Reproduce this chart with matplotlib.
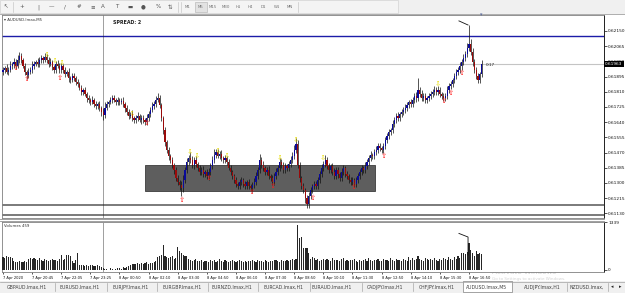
import matplotlib
matplotlib.use('Agg')
import matplotlib.pyplot as plt
from matplotlib.patches import Rectangle

W, H = 625, 293

# ---------------- data (prices in points: 61932 -> 0.61932) ----------------
first_open = 61921
closes = [
    61932, 61943, 61921, 61932, 61954, 61965, 61976, 61954, 61988, 62010,
    61988, 61954, 61921, 61904, 61921, 61932, 61954, 61965, 61976, 61965,
    61988, 61999, 61988, 62004, 61988, 61965, 61976, 61948, 61932, 61965,
    61954, 61932, 61954, 61932, 61909, 61921, 61887, 61876, 61898, 61887,
    61865, 61853, 61831, 61809, 61820, 61798, 61775, 61764, 61753, 61764,
    61742, 61730, 61742, 61719, 61697, 61680, 61719, 61742, 61753, 61764,
    61775, 61764, 61753, 61764, 61753, 61758, 61742, 61719, 61697, 61675,
    61686, 61663, 61652, 61663, 61675, 61652, 61663, 61652, 61641, 61663,
    61686, 61708, 61730, 61742, 61764, 61775, 61736, 61663, 61596, 61529,
    61484, 61451, 61429, 61401, 61373, 61328, 61306, 61289, 61272, 61317,
    61373, 61417, 61440, 61429, 61401, 61429, 61406, 61384, 61362, 61373,
    61350, 61362, 61339, 61362, 61395, 61429, 61457, 61473, 61451, 61462,
    61440, 61429, 61440, 61417, 61384, 61362, 61339, 61317, 61294, 61283,
    61306, 61317, 61294, 61283, 61306, 61283, 61272, 61289, 61306, 61339,
    61373, 61429, 61401, 61384, 61362, 61373, 61339, 61328, 61306, 61339,
    61362, 61384, 61417, 61401, 61373, 61395, 61384, 61406, 61429, 61451,
    61484, 61518, 61401, 61328, 61283, 61261, 61216, 61183, 61227, 61261,
    61283, 61294, 61283, 61317, 61350, 61384, 61406, 61429, 61395, 61373,
    61395, 61362, 61339, 61373, 61350, 61328, 61362, 61384, 61350, 61339,
    61317, 61306, 61317, 61294, 61317, 61339, 61362, 61384, 61373, 61395,
    61417, 61440, 61457, 61451, 61473, 61484, 61507, 61496, 61484, 61507,
    61540, 61563, 61585, 61596, 61630, 61652, 61675, 61663, 61686, 61697,
    61708, 61719, 61736, 61753, 61742, 61764, 61786, 61775, 61820, 61798,
    61775, 61786, 61764, 61775, 61786, 61798, 61809, 61820, 61809, 61820,
    61798, 61786, 61775, 61786, 61820, 61842, 61853, 61876, 61898, 61921,
    61932, 61954, 61976, 61999, 62021, 62055, 62077, 62032, 61976, 61932,
    61898, 61876, 61909, 61965,
]
up_wick = [
    18, 12, 22, 15, 26, 13, 20, 16, 30, 24, 15, 12, 18, 9, 20, 15, 26, 18, 13, 22,
    16, 19, 12, 24, 18, 15, 20, 13, 10, 18, 24, 15, 19, 12, 16, 9, 20, 13, 18, 15,
    12, 16, 10, 19, 13, 15, 9, 18, 12, 20, 13, 16, 10, 15, 12, 22, 32, 18, 13, 16,
    15, 19, 12, 18, 13, 16, 20, 10, 15, 18, 12, 22, 13, 16, 19, 12, 15, 18, 13, 20,
    16, 19, 24, 15, 20, 26, 18, 13, 12, 15, 10, 18, 13, 16, 12, 15, 18, 13, 20, 26,
    18, 22, 15, 32, 20, 16, 24, 13, 18, 15, 19, 12, 16, 20, 18, 24, 30, 19, 15, 18,
    20, 13, 16, 12, 15, 18, 10, 13, 16, 12, 15, 18, 13, 16, 12, 15, 13, 18, 20, 24,
    18, 32, 15, 20, 13, 16, 19, 12, 15, 18, 20, 16, 24, 18, 15, 19, 13, 16, 20, 24,
    26, 32, 20, 15, 12, 18, 13, 15, 20, 16, 13, 18, 15, 19, 16, 22, 18, 26, 15, 19,
    13, 18, 20, 15, 16, 12, 19, 15, 13, 16, 12, 18, 15, 13, 19, 16, 15, 18, 13, 20,
    18, 15, 19, 13, 16, 20, 15, 18, 13, 16, 19, 15, 18, 13, 20, 16, 15, 19, 13, 18,
    15, 20, 16, 13, 19, 18, 15, 22, 67, 18, 20, 15, 18, 13, 19, 16, 15, 20, 18, 24,
    16, 13, 18, 15, 20, 18, 16, 13, 19, 18, 15, 20, 16, 24, 18, 26, 106, 30, 20, 18,
    15, 19, 13, 22,
]
lo_wick = [
    15, 20, 12, 18, 13, 16, 22, 15, 12, 19, 18, 13, 20, 24, 15, 12, 18, 16, 13, 19,
    18, 15, 20, 13, 16, 19, 12, 18, 15, 20, 13, 16, 19, 15, 18, 12, 20, 16, 13, 18,
    15, 19, 13, 16, 18, 12, 20, 15, 18, 13, 16, 19, 15, 18, 22, 26, 15, 13, 18, 12,
    16, 13, 18, 15, 19, 12, 16, 20, 15, 18, 13, 16, 19, 15, 18, 13, 20, 16, 15, 19,
    18, 15, 13, 19, 16, 12, 18, 15, 20, 24, 18, 20, 16, 19, 22, 18, 20, 26, 45, 24,
    20, 18, 15, 19, 16, 22, 15, 18, 20, 16, 19, 15, 18, 20, 16, 18, 15, 19, 13, 16,
    18, 15, 19, 16, 13, 20, 18, 15, 19, 16, 18, 20, 15, 19, 16, 18, 15, 20, 18, 16,
    19, 15, 18, 20, 16, 18, 15, 19, 16, 18, 15, 19, 18, 15, 20, 16, 18, 15, 19, 16,
    18, 15, 19, 22, 18, 20, 26, 23, 24, 18, 20, 16, 19, 18, 15, 18, 16, 15, 18, 16,
    19, 15, 18, 16, 20, 18, 15, 19, 16, 18, 15, 20, 18, 16, 19, 15, 18, 16, 19, 15,
    18, 16, 15, 19, 18, 15, 16, 18, 15, 19, 16, 18, 15, 16, 18, 15, 19, 16, 18, 15,
    16, 18, 15, 19, 16, 18, 15, 20, 18, 16, 19, 15, 18, 16, 15, 19, 16, 18, 15, 19,
    18, 16, 19, 15, 18, 16, 15, 19, 18, 15, 16, 18, 20, 19, 18, 16, 15, 18, 24, 20,
    18, 16, 19, 15,
]
volumes = [
    360, 340, 380, 350, 370, 330, 250, 230, 220, 240, 210, 230, 250, 220, 300, 330, 310, 340, 320, 290,
    330, 280, 260, 300, 270, 250, 290, 310, 270, 280, 260, 300, 420, 280, 300, 430, 410, 380, 240, 200,
    290, 470, 150, 130, 140, 120, 150, 110, 140, 130, 120, 100, 130, 120, 90, 60, 40, 30, 0, 50,
    40, 0, 30, 60, 50, 40, 70, 60, 90, 120, 150, 180, 170, 160, 190, 180, 200, 170, 190, 210,
    180, 200, 190, 210, 240, 350, 380, 420, 700, 400, 360, 330, 350, 380, 300, 330, 650, 520, 470, 430,
    400, 380, 300, 280, 250, 270, 300, 260, 240, 280, 220, 250, 260, 230, 270, 240, 280, 220, 260, 300,
    240, 230, 270, 260, 220, 250, 280, 240, 230, 260, 270, 240, 210, 250, 230, 260, 240, 280, 250, 230,
    270, 240, 260, 220, 280, 250, 230, 260, 240, 280, 270, 250, 230, 290, 260, 240, 280, 250, 270, 300,
    280, 310, 1250, 890, 920, 610, 620, 600, 480, 300, 350, 330, 280, 310, 260, 290, 320, 270, 300, 280,
    250, 330, 290, 270, 280, 260, 300, 340, 250, 280, 240, 290, 270, 310, 260, 230, 280, 250, 270, 300,
    260, 330, 280, 250, 290, 270, 320, 260, 240, 300, 270, 290, 250, 330, 280, 260, 310, 290, 270, 250,
    300, 280, 260, 350, 290, 330, 270, 300, 380, 320, 290, 260, 340, 300, 280, 310, 270, 330, 290, 260,
    310, 280, 330, 300, 270, 350, 320, 290, 360, 310, 400, 330, 470, 480, 460, 500, 750, 560, 480, 400,
    520, 440, 470, 459,
]
time_labels = ["7 Apr 2020", "7 Apr 20:45", "7 Apr 22:05", "7 Apr 23:25", "8 Apr 00:50",
               "8 Apr 02:10", "8 Apr 03:30", "8 Apr 04:50", "8 Apr 06:10", "8 Apr 07:30",
               "8 Apr 08:50", "8 Apr 10:10", "8 Apr 11:30", "8 Apr 12:50", "8 Apr 14:10",
               "8 Apr 15:30", "8 Apr 16:50"]
time_label_bars = [0, 16, 32, 48, 64, 80, 96, 112, 128, 144, 160, 176, 192, 208, 224, 240, 256]
price_ticks = [0.62150, 0.62065, 0.61980, 0.61895, 0.61810, 0.61725, 0.61640, 0.61555,
               0.61470, 0.61385, 0.61300, 0.61215, 0.61130]
buy_bars = [7, 13, 31, 79, 98, 113, 137, 148, 170, 193, 209, 242, 246, 252]
buy_prices = [61945, 61880, 61888, 61636, 61205, 61328, 61250, 61282, 61215, 61278, 61452, 61758, 61803, 61915]
sell_bars = [24, 28.5, 32.5, 71, 102.5, 106.5, 118, 123, 152, 161, 176, 239]
sell_prices = [62016, 61983, 61972, 61686, 61474, 61452, 61480, 61452, 61441, 61541, 61441, 61854]
zone_bars = [78, 204.5]
zone_prices = [0.61401, 0.61255]
blue_level = 0.62122
bid_price = 0.61963
grey_levels = [0.61177, 0.61121]
separator_bar = 55
ann_price_x = [250.5, 255.5]
ann_price_y = [0.62206, 0.62183]
ann_vol_x = [250.5, 255.5, 255.5]
ann_vol_y = [1020, 920, 420]
vol_max = 1339
tabs = ["GBPAUD.lmax,H1", "EURUSD.lmax,H1", "EURJPY.lmax,H1", "EURGBP.lmax,H1",
        "EURNZD.lmax,H1", "EURCAD.lmax,H1", "EURAUD.lmax,H1", "CADJPY.lmax,H1",
        "CHFJPY.lmax,H1", "AUDUSD.lmax,M5", "AUDJPY.lmax,H1", "NZDUSD.lmax,"]
tab_centers = [27, 80, 131, 182, 232, 283, 332, 385, 437, 487, 542, 587]
tab_seps = [55, 107, 157, 208, 258, 310, 362, 413, 463, 512, 567, 608]
periods = ["M1", "M5", "M15", "M30", "H1", "H4", "D1", "W1", "MN"]
period_x = [188, 201, 213, 226, 238, 250, 263, 277, 290]

# ---------------- figure ----------------
fig = plt.figure(figsize=(W / 100, H / 100), dpi=100)
fig.patch.set_facecolor('#f0f0f0')


def rect(x0, y0, x1, y1):
    return [x0 / W, 1 - y1 / H, (x1 - x0) / W, (y1 - y0) / H]


bg = fig.add_axes([0, 0, 1, 1])
bg.set_xlim(0, W)
bg.set_ylim(H, 0)
bg.axis('off')

# toolbar
bg.add_patch(Rectangle((0, 0), 398, 13, facecolor='#f4f4f4', edgecolor='#d8d8d8', lw=0.6))
icons = ['\u2196', '+', '|', '\u2014', '/', '#', '\u2261', 'A', 'T', '\u25ac', '\u25cf', '%', '\u21c5']
icon_x = [6, 22, 38, 51, 65, 79, 93, 103, 117, 130, 143, 158, 170]
for t, x in zip(icons, icon_x):
    bg.text(x, 7, t, fontsize=4, color='#555555', ha='center', va='center')
for x in [13, 178, 181, 298]:
    bg.plot([x, x], [2, 12], color='#c8c8c8', lw=0.5)
bg.add_patch(Rectangle((195, 2), 12, 10, facecolor='#e2e2e2', edgecolor='#b0b0b0', lw=0.4))
for t, x in zip(periods, period_x):
    bg.text(x, 7, t, fontsize=2.8, color='#707070', ha='center', va='center')

# white chart window
bg.add_patch(Rectangle((0, 14), W, 267, facecolor='white', edgecolor='none'))
bg.plot([0, 625], [14, 14], color='#a0a0a0', lw=0.6)

# watermark (behind tabs)
bg.text(492, 272, 'Activate Windows', fontsize=5.2, color='#d4d4d4', ha='left', va='center')
bg.text(492, 279, 'Go to Settings to activate Windows.', fontsize=3.0, color='#d4d4d4',
        ha='left', va='center')

# tab bar
bg.plot([0, 625], [282, 282], color='#a0a0a0', lw=0.5)
bg.add_patch(Rectangle((463, 281), 49, 11, facecolor='white', edgecolor='#808080', lw=0.5))
for t, x in zip(tabs, tab_centers):
    bg.text(x, 287, t, fontsize=3.3, color='#404040', ha='center', va='center')
for x in tab_seps:
    bg.plot([x, x], [283, 291], color='#a8a8a8', lw=0.5)
bg.text(612, 287, '\u25c2', fontsize=3.5, color='#202020', ha='center', va='center')
bg.text(620, 287, '\u25b8', fontsize=3.5, color='#202020', ha='center', va='center')

# ---------------- main price axes ----------------
ax = fig.add_axes(rect(2, 15, 604, 218))
ax.set_facecolor('white')
n = len(closes)
opens = [first_open] + closes[:-1]
xlo = -0.55
xhi = 330.2
ax.set_xlim(xlo, xhi)
ax.set_ylim(0.61104, 0.62239)

ax.add_patch(Rectangle((zone_bars[0], zone_prices[1]), zone_bars[1] - zone_bars[0],
                       zone_prices[0] - zone_prices[1], facecolor='#5e5e5e',
                       edgecolor='#3c3c3c', lw=0.6, zorder=1))
ax.axhline(blue_level, color='#1c1ca8', lw=1.0, zorder=2)
ax.axhline(bid_price, color='#c4c4c4', lw=0.8, zorder=2)
for lv in grey_levels:
    ax.axhline(lv, color='#707070', lw=1.3, zorder=2)
ax.axvline(separator_bar, color='#202020', lw=0.6, ls=(0, (1.2, 1.2)), zorder=2)

highs = [max(o, c) + u for o, c, u in zip(opens, closes, up_wick)]
lows = [min(o, c) - d for o, c, d in zip(opens, closes, lo_wick)]
xs = list(range(n))
ax.vlines(xs, [l / 1e5 for l in lows], [h / 1e5 for h in highs], color='#101010', lw=0.5, zorder=3)
for i in xs:
    o, c = opens[i], closes[i]
    col = '#0a0a9a' if c >= o else '#9a0a0a'
    b = min(o, c) / 1e5
    h = max(abs(c - o), 4) / 1e5
    ax.bar(i, h, bottom=b, width=0.66, color=col, lw=0, zorder=4)

for b, p in zip(buy_bars, buy_prices):
    ax.text(b, p / 1e5, '\u21e7', color='#ff1a1a', fontsize=5.4, ha='center', va='center', zorder=5)
for b, p in zip(sell_bars, sell_prices):
    ax.text(b, p / 1e5, '\u21e9', color='#e8dc00', fontsize=5.4, ha='center', va='center', zorder=5)

ax.plot(ann_price_x + [ann_price_x[-1]], ann_price_y + [highs[256] / 1e5], color='#101010', lw=0.6, zorder=5)
ax.text(n + 1, bid_price - 0.00005, '0:17', fontsize=3, color='#202020', va='center', ha='left', zorder=5)

ax.yaxis.tick_right()
ax.set_yticks(price_ticks)
ax.set_yticklabels(['%.5f' % t for t in price_ticks])
ax.tick_params(axis='y', labelsize=3.1, length=2, width=0.5, pad=1, colors='#101010')
ax.set_xticks([])
for s in ['top', 'left', 'bottom']:
    ax.spines[s].set_color('#808080')
    ax.spines[s].set_linewidth(0.6)
ax.spines['right'].set_color('#202020')
ax.spines['right'].set_linewidth(0.7)
ax.text(1.002, (bid_price - 0.61104) / (0.62239 - 0.61104), '%.5f' % bid_price,
        transform=ax.transAxes, fontsize=3.1, color='white', ha='left', va='center',
        bbox=dict(boxstyle='square,pad=0.25', facecolor='black', edgecolor='none'), zorder=6,
        clip_on=False)
ax.text(0.004, 0.985, '\u25be AUDUSD.lmax,M5', transform=ax.transAxes, fontsize=2.8,
        color='#303030', ha='left', va='top')
ax.text(0.185, 0.975, 'SPREAD: 2', transform=ax.transAxes, fontsize=3.4, fontweight='bold',
        color='#202020', ha='left', va='top')
ax.text(n - 1, 0.62239, '\u25be', fontsize=3.5, color='#6070a0', ha='center', va='center',
        clip_on=False)

# ---------------- volume axes ----------------
vx = fig.add_axes(rect(2, 222, 604, 272))
vx.set_facecolor('white')
vx.set_xlim(xlo, xhi)
vx.set_ylim(-56, vol_max)
vx.bar(xs, volumes, width=0.62, color='#262626', lw=0, zorder=3)
vx.axvline(separator_bar, color='#202020', lw=0.6, ls=(0, (1.2, 1.2)), zorder=2)
vx.plot(ann_vol_x, ann_vol_y, color='#101010', lw=0.6, zorder=5)
vx.yaxis.tick_right()
vx.set_yticks([vol_max, 0])
vx.set_yticklabels([str(vol_max), '0'])
vx.tick_params(axis='y', labelsize=3.1, length=2, width=0.5, pad=1, colors='#101010')
vx.set_xticks(time_label_bars)
vx.set_xticklabels(time_labels, ha='left')
vx.tick_params(axis='x', labelsize=2.6, length=1.5, width=0.5, pad=1.2, colors='#101010')
for s in ['top', 'left', 'bottom']:
    vx.spines[s].set_color('#808080')
    vx.spines[s].set_linewidth(0.6)
vx.spines['right'].set_color('#202020')
vx.spines['right'].set_linewidth(0.7)
vx.text(0.004, 0.96, 'Volumes 459', transform=vx.transAxes, fontsize=2.8, color='#303030',
        ha='left', va='top')

# separator between windows
bg.plot([0, 604], [219, 219], color='#909090', lw=0.6)
bg.plot([0, 604], [221, 221], color='#909090', lw=0.6)

fig.savefig('out.png', dpi=100, facecolor=fig.get_facecolor())
